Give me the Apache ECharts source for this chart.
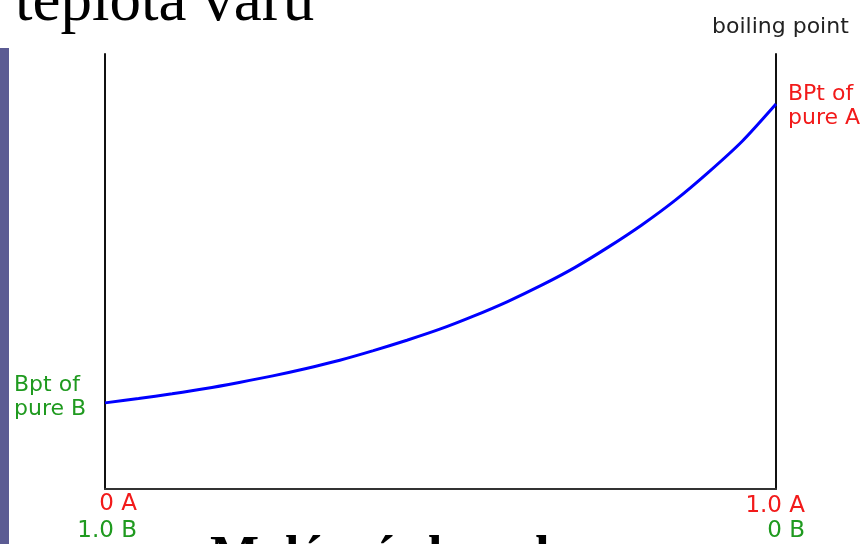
<!DOCTYPE html>
<html>
<head>
<meta charset="utf-8">
<script src="https://cdn.jsdelivr.net/npm/echarts@6/dist/echarts.min.js"></script>
<style>
html,body{margin:0;padding:0;background:#fff;}
#chart{width:865px;height:544px;}
</style>
</head>
<body>
<div id="chart"></div>
<script>
// mole fraction of A (0 = pure B, 1 = pure A)
const moleFractionA = [0, 0.05, 0.1, 0.15, 0.2, 0.25, 0.3, 0.35, 0.4, 0.45, 0.5, 0.55, 0.6, 0.65, 0.7, 0.75, 0.8, 0.85, 0.9, 0.95, 1];
// boiling point (0 = bottom axis, 100 = top of axes)
const boilingPoint = [19.8, 20.8, 21.9, 23.1, 24.5, 26.0, 27.7, 29.6, 31.8, 34.2, 36.8, 39.8, 43.1, 46.8, 50.9, 55.6, 60.7, 66.4, 72.9, 80.0, 88.5];
const labelsA = ['0 A', '1.0 A'];
const labelsB = ['1.0 B', '0 B'];
const titleText = 'teplota varu';
const axisTitle = 'boiling point';
const bptB = 'Bpt of\npure B';
const bptA = 'BPt of\npure A';
const bottomText = 'Molární zlomek';

const RED = '#f21a1a';
const GREEN = '#1f9a1f';
const SANS = '"DejaVu Sans", sans-serif';
const SERIF = '"Liberation Serif", "Times New Roman", serif';

const chart = echarts.init(document.getElementById('chart'), null, {renderer: 'canvas'});

const option = {
  animation: false,
  backgroundColor: '#ffffff',
  grid: {left: 105, right: 89, top: 54, bottom: 55},
  xAxis: {
    type: 'value', min: 0, max: 1,
    axisLine: {show: true, lineStyle: {color: '#333', width: 2}},
    axisTick: {show: false}, axisLabel: {show: false}, splitLine: {show: false}
  },
  yAxis: [
    {
      type: 'value', min: 0, max: 100, position: 'left',
      axisLine: {show: true, onZero: false, lineStyle: {color: '#111', width: 2}},
      axisTick: {show: false}, axisLabel: {show: false}, splitLine: {show: false}
    },
    {
      type: 'value', min: 0, max: 100, position: 'right',
      axisLine: {show: true, onZero: false, lineStyle: {color: '#111', width: 2}},
      axisTick: {show: false}, axisLabel: {show: false}, splitLine: {show: false}
    }
  ],
  series: [{
    type: 'line',
    data: moleFractionA.map((x, i) => [x, boilingPoint[i]]),
    smooth: 0.25,
    showSymbol: false,
    lineStyle: {color: '#0000ff', width: 3},
    z: 3
  }],
  graphic: [
    {type: 'rect', shape: {x: 0, y: 48, width: 9, height: 496}, style: {fill: '#5b5b93'}},
    {type: 'text', x: 15, y: 3, style: {text: titleText, font: '63px ' + SERIF, fill: '#000', verticalAlign: 'middle'}},
    {type: 'text', x: 712, y: 27.5, style: {text: axisTitle, font: '22px ' + SANS, fill: '#222', verticalAlign: 'middle'}},
    {type: 'text', x: 788, y: 106, style: {text: bptA, font: '22px ' + SANS, fill: RED, lineHeight: 24, verticalAlign: 'middle'}},
    {type: 'text', x: 14, y: 397, style: {text: bptB, font: '22px ' + SANS, fill: GREEN, lineHeight: 24, verticalAlign: 'middle'}},
    {type: 'text', x: 137, y: 504.5, style: {text: labelsA[0], font: '23px ' + SANS, fill: RED, align: 'right', verticalAlign: 'middle'}},
    {type: 'text', x: 137, y: 531, style: {text: labelsB[0], font: '23px ' + SANS, fill: GREEN, align: 'right', verticalAlign: 'middle'}},
    {type: 'text', x: 805, y: 506.5, style: {text: labelsA[1], font: '23px ' + SANS, fill: RED, align: 'right', verticalAlign: 'middle'}},
    {type: 'text', x: 805, y: 531.5, style: {text: labelsB[1], font: '23px ' + SANS, fill: GREEN, align: 'right', verticalAlign: 'middle'}},
    {type: 'text', x: 210, y: 559, style: {text: bottomText, font: 'bold 52px ' + SERIF, fill: '#000', verticalAlign: 'middle'}}
  ]
};
chart.setOption(option);
</script>
</body>
</html>
